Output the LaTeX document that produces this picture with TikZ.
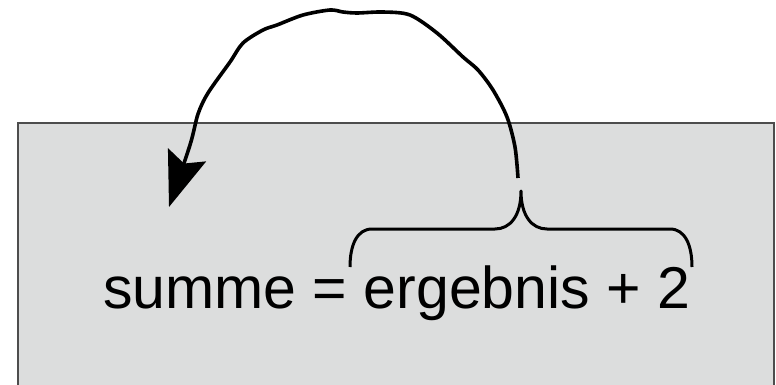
\documentclass[tikz,border=0pt]{standalone}
\usepackage{fontspec}
\setmainfont{Liberation Sans}
\usetikzlibrary{arrows.meta}
\definecolor{panelgray}{HTML}{DCDDDD}
\definecolor{paneledge}{HTML}{4D4D4D}

\begin{document}
\begin{tikzpicture}[x=1pt, y=-1pt,
    panel/.style={fill=panelgray, draw=paneledge, line width=1.3pt},
    bracepath/.style={line width=3pt, line join=round},
    link/.style={line width=3.6pt, -{Stealth[length=55pt, width=40pt, inset=9pt]}}]
  \useasboundingbox (0,0) rectangle (776,385);
  % Gray panel behind the statement
  \draw[panel] (18,123) rectangle (774,400);
  % Statement
  \node[anchor=base west, inner sep=0pt, font=\fontsize{59}{61}\selectfont] (expr) at (103,308) {summe = ergebnis + 2};
  % Brace over the right hand side
  \coordinate (bracetip) at (521,191);
  \draw[bracepath] (350,267) .. controls (350,245) and (357,229) .. (372,229) -- (495,229)
    .. controls (510,229) and (521,216) .. (bracetip)
    .. controls (521,216) and (532,229) .. (547,229) -- (670,229)
    .. controls (685,229) and (692,245) .. (692,267);
  % Arrow back to the left hand side
  \coordinate (from) at (518,178);
  \coordinate (to) at (169,207);
  \draw[link] plot[smooth] coordinates {(from) (515,147) (507,117) (493,90) (478,70) (463,57)
    (437,33) (410,15) (383,12) (357,13) (343,12) (330,10) (303,15) (277,25) (263,30)
    (243,43) (230,62) (208,93) (198,114) (190,145) (to)};
\end{tikzpicture}
\end{document}
